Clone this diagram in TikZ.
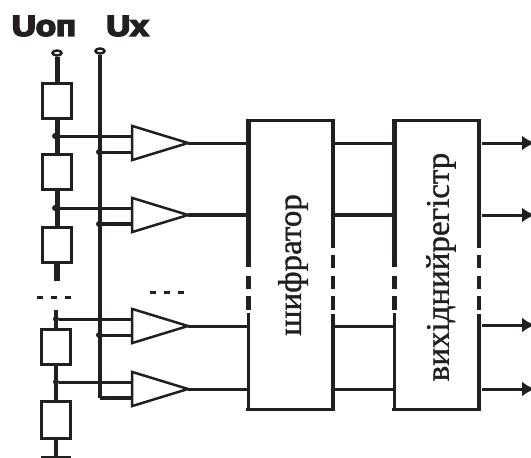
\documentclass[tikz,border=0pt]{standalone}
\usepackage{fontspec}
\setmainfont{Liberation Serif}
\newfontfamily\labelfont[FakeBold=6]{Liberation Sans Bold}
\newfontfamily\blockfont[FakeBold=1]{Liberation Serif}
\usetikzlibrary{arrows.meta,shapes.geometric}
\definecolor{ink}{HTML}{231F20}
\tikzset{
    wire/.style={draw=ink,line width=3pt},
    thickwire/.style={draw=ink,line width=5pt},
    resistor/.style={rectangle,draw=ink,fill=white,line width=3pt,minimum width=29pt,minimum height=35pt,inner sep=0pt,outer sep=0pt},
    comparator/.style={isosceles triangle,isosceles triangle apex angle=34,draw=ink,fill=white,line width=2.5pt,minimum height=56pt,inner sep=0pt,outer sep=0pt,anchor=apex},
    terminal/.style={ellipse,draw=ink,fill=white,line width=2.5pt,minimum width=9pt,minimum height=5pt,inner sep=0pt},
    junction/.style={circle,fill=ink,inner sep=0pt,minimum size=6pt},
    blockbox/.style={rectangle,minimum width=85pt,minimum height=289pt,inner sep=0pt,outer sep=0pt},
    leftedge/.style={draw=ink,line width=5pt,dash pattern=on 147pt off 9pt on 13pt off 7pt on 14pt off 200pt},
    rightedge/.style={draw=ink,line width=4pt,dash pattern=on 128pt off 7pt on 13pt off 8pt on 13pt off 7pt on 14pt off 4pt on 99pt},
    output/.style={wire,shorten <=3pt,-{Latex[length=13pt,width=15pt]}},
    gaps/.style={draw=ink,line width=3pt,dash pattern=on 6pt off 8pt},
    heading/.style={font=\labelfont\fontsize{29}{29}\selectfont,text=ink,inner sep=0pt,xscale=1.14,transform shape},
    blocktext/.style={font=\blockfont\fontsize{33}{33}\selectfont,text=ink,inner sep=0pt,rotate=90},
}

\begin{document}
\begin{tikzpicture}[x=1pt,y=-1pt]
\useasboundingbox (0,0) rectangle (531,458);

\node[heading] (uref) at (44,26) {Uоп};
\node[heading] (ux) at (127.5,26) {Ux};

\node[terminal] (trefin) at (57,53) {};
\node[terminal] (txin) at (100,51) {};
\coordinate (uxend) at (100,398);

% resistor ladder
\node[resistor] (r1) at (57,101) {};
\node[resistor] (r2) at (57,172) {};
\node[resistor] (r3) at (57,245) {};
\node[resistor] (r4) at (56,347) {};
\node[resistor,minimum height=37pt] (r5) at (56,420) {};
\coordinate (r3end) at (57,281);
\coordinate (r4start) at (56,310);
\coordinate (gnd) at (56,457);
\coordinate (gndl) at (41,457);
\coordinate (gndr) at (71,457);

\draw[thickwire] (trefin) -- (r1);
\draw[thickwire] (r1) -- (r2);
\draw[thickwire] (r2) -- (r3);
\draw[line width=6pt,draw=ink] (r3) -- (r3end);
\draw[wire,line width=4pt] (r4start) -- (r4);
\draw[wire,line width=4pt] (r4) -- (r5);
\draw[wire,line width=4pt] (r5) -- (gnd);
\draw[wire] (gndl) -- (gndr);
\draw[wire,line width=4pt] (txin) -- (uxend);

\coordinate (gapa) at (37,297);
\coordinate (gapb) at (71,297);
\draw[gaps] (gapa) -- (gapb);
\coordinate (gapc) at (150,292);
\coordinate (gapd) at (184,292);
\draw[gaps] (gapc) -- (gapd);

% comparators
\node[comparator] (c1) at (188,143) {};
\node[comparator] (c2) at (188,215) {};
\node[comparator] (c3) at (188,326) {};
\node[comparator] (c4) at (188,389) {};

\node[junction] (j1) at (55,136) {};
\node[junction] (j2) at (55,208) {};
\node[junction] (j3) at (56,319) {};
\node[junction] (j4) at (56,382) {};
\node[junction] (k1) at (99,152) {};
\node[junction] (k2) at (99,224) {};
\node[junction] (k3) at (99,335) {};
\coordinate (k4) at (100,398);

\draw[wire] (j1) -- (j1 -| c1.lower side);
\draw[wire] (k1) -- (k1 -| c1.lower side);
\draw[wire] (j2) -- (j2 -| c2.lower side);
\draw[thickwire,line width=4pt] (k2) -- (k2 -| c2.lower side);
\draw[wire] (j3) -- (j3 -| c3.lower side);
\draw[wire] (k3) -- (k3 -| c3.lower side);
\draw[wire] (j4) -- (j4 -| c4.lower side);
\draw[thickwire,line width=4pt] (k4) -- (k4 -| c4.lower side);

% blocks
\node[blockbox] (coder) at (290.5,264.5) {};
\node[blockbox] (reg) at (436.5,264.5) {};

\draw[wire] ([xshift=-2pt]coder.north west) -- ([xshift=2pt]coder.north east);
\draw[wire] ([xshift=-2pt]coder.south west) -- ([xshift=2pt]coder.south east);
\draw[leftedge] (coder.north west) -- (coder.south west);
\draw[wire] (coder.south west) -- ++(0,-96);
\draw[rightedge] (coder.north east) -- (coder.south east);

\draw[wire] ([xshift=-2pt]reg.north west) -- ([xshift=2pt]reg.north east);
\draw[wire] ([xshift=-2pt]reg.south west) -- ([xshift=2pt]reg.south east);
\draw[leftedge] (reg.north west) -- (reg.south west);
\draw[wire] (reg.south west) -- ++(0,-96);
\draw[rightedge] (reg.north east) -- (reg.south east);

\node[blocktext] (codertext) at (293,265) {шифратор};
\node[blocktext] (regtext) at (441,267) {вихіднийрегістр};

\draw[wire] (c1.apex) -- (c1.apex -| coder.west);
\draw[wire,line width=4pt] (c2.apex) -- (c2.apex -| coder.west);
\draw[wire] (c3.apex) -- (c3.apex -| coder.west);
\draw[wire] (c4.apex) -- (c4.apex -| coder.west);

\draw[wire] (c1.apex -| coder.east) -- (c1.apex -| reg.west);
\draw[wire,line width=4pt] (c2.apex -| coder.east) -- (c2.apex -| reg.west);
\draw[wire] (c3.apex -| coder.east) -- (c3.apex -| reg.west);
\draw[wire] (c4.apex -| coder.east) -- (c4.apex -| reg.west);

\coordinate (out1) at (535,143);
\coordinate (out2) at (535,215);
\coordinate (out3) at (535,325);
\coordinate (out4) at (535,389);
\draw[output] (out1 -| reg.east) -- (out1);
\draw[output] (out2 -| reg.east) -- (out2);
\draw[output] (out3 -| reg.east) -- (out3);
\draw[output] (out4 -| reg.east) -- (out4);
\end{tikzpicture}
\end{document}
